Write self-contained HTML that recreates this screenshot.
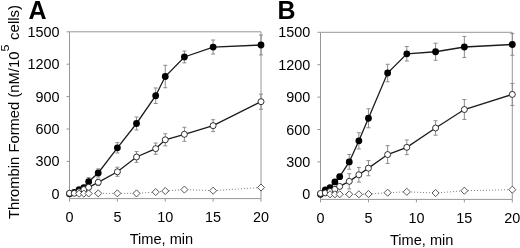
<!DOCTYPE html>
<html><head><meta charset="utf-8"><style>
html,body{margin:0;padding:0;background:#fff;}
svg{display:block;will-change:transform;}
text{font-family:"Liberation Sans",sans-serif;fill:#000;}
.tk{font-size:14.4px;}
.ax{font-size:14.6px;}
.pl{font-size:25px;font-weight:bold;}
</style></head><body>
<svg width="520" height="248" viewBox="0 0 520 248">
<path d="M69.50 31.80H261.00V198.60" fill="none" stroke="#969696" stroke-width="1"/>
<path d="M69.50 31.80V198.60H261.00" fill="none" stroke="#969696" stroke-width="1"/>
<path d="M66.50 193.80H69.50" stroke="#969696" stroke-width="1"/>
<text transform="translate(59.50,198.80) scale(1,1.08)" text-anchor="end" class="tk">0</text>
<path d="M66.50 161.40H69.50" stroke="#969696" stroke-width="1"/>
<text transform="translate(59.50,166.40) scale(1,1.08)" text-anchor="end" class="tk">300</text>
<path d="M66.50 129.00H69.50" stroke="#969696" stroke-width="1"/>
<text transform="translate(59.50,134.00) scale(1,1.08)" text-anchor="end" class="tk">600</text>
<path d="M66.50 96.60H69.50" stroke="#969696" stroke-width="1"/>
<text transform="translate(59.50,101.60) scale(1,1.08)" text-anchor="end" class="tk">900</text>
<path d="M66.50 64.20H69.50" stroke="#969696" stroke-width="1"/>
<text transform="translate(59.50,69.20) scale(1,1.08)" text-anchor="end" class="tk">1200</text>
<path d="M66.50 31.80H69.50" stroke="#969696" stroke-width="1"/>
<text transform="translate(59.50,36.80) scale(1,1.08)" text-anchor="end" class="tk">1500</text>
<path d="M69.50 198.60V201.60" stroke="#969696" stroke-width="1"/>
<text transform="translate(69.50,222.00) scale(1,1.08)" text-anchor="middle" class="tk">0</text>
<path d="M117.38 198.60V201.60" stroke="#969696" stroke-width="1"/>
<text transform="translate(117.38,222.00) scale(1,1.08)" text-anchor="middle" class="tk">5</text>
<path d="M165.25 198.60V201.60" stroke="#969696" stroke-width="1"/>
<text transform="translate(165.25,222.00) scale(1,1.08)" text-anchor="middle" class="tk">10</text>
<path d="M213.12 198.60V201.60" stroke="#969696" stroke-width="1"/>
<text transform="translate(213.12,222.00) scale(1,1.08)" text-anchor="middle" class="tk">15</text>
<path d="M261.00 198.60V201.60" stroke="#969696" stroke-width="1"/>
<text transform="translate(261.00,222.00) scale(1,1.08)" text-anchor="middle" class="tk">20</text>
<path d="M88.65 177.60V185.81M86.65 177.60H90.65M86.65 185.81H90.65" stroke="#8c8c8c" stroke-width="1" fill="none"/>
<path d="M98.22 168.85V177.06M96.22 168.85H100.22M96.22 177.06H100.22" stroke="#8c8c8c" stroke-width="1" fill="none"/>
<path d="M117.38 142.61V152.98M115.38 142.61H119.38M115.38 152.98H119.38" stroke="#8c8c8c" stroke-width="1" fill="none"/>
<path d="M136.52 117.01V129.97M134.52 117.01H138.52M134.52 129.97H138.52" stroke="#8c8c8c" stroke-width="1" fill="none"/>
<path d="M155.68 87.96V103.51M153.68 87.96H157.68M153.68 103.51H157.68" stroke="#8c8c8c" stroke-width="1" fill="none"/>
<path d="M165.25 65.28V87.74M163.25 65.28H167.25M163.25 87.74H167.25" stroke="#8c8c8c" stroke-width="1" fill="none"/>
<path d="M184.40 51.02V62.90M182.40 51.02H186.40M182.40 62.90H186.40" stroke="#8c8c8c" stroke-width="1" fill="none"/>
<path d="M213.12 40.01V54.05M211.12 40.01H215.12M211.12 54.05H215.12" stroke="#8c8c8c" stroke-width="1" fill="none"/>
<path d="M261.00 35.04V54.91M259.00 35.04H263.00M259.00 54.91H263.00" stroke="#8c8c8c" stroke-width="1" fill="none"/>
<path d="M98.22 179.11V185.59M96.22 179.11H100.22M96.22 185.59H100.22" stroke="#8c8c8c" stroke-width="1" fill="none"/>
<path d="M117.38 167.23V176.30M115.38 167.23H119.38M115.38 176.30H119.38" stroke="#8c8c8c" stroke-width="1" fill="none"/>
<path d="M136.52 151.57V162.37M134.52 151.57H138.52M134.52 162.37H138.52" stroke="#8c8c8c" stroke-width="1" fill="none"/>
<path d="M155.68 143.04V154.27M153.68 143.04H157.68M153.68 154.27H157.68" stroke="#8c8c8c" stroke-width="1" fill="none"/>
<path d="M165.25 133.75V145.85M163.25 133.75H167.25M163.25 145.85H167.25" stroke="#8c8c8c" stroke-width="1" fill="none"/>
<path d="M184.40 127.27V141.31M182.40 127.27H186.40M182.40 141.31H186.40" stroke="#8c8c8c" stroke-width="1" fill="none"/>
<path d="M213.12 119.71V131.59M211.12 119.71H215.12M211.12 131.59H215.12" stroke="#8c8c8c" stroke-width="1" fill="none"/>
<path d="M261.00 94.12V109.24M259.00 94.12H263.00M259.00 109.24H263.00" stroke="#8c8c8c" stroke-width="1" fill="none"/>
<polyline points="69.50,193.80 74.29,192.29 79.08,189.70 83.86,187.54 88.65,181.70 98.22,172.96 117.38,147.79 136.52,123.49 155.68,95.74 165.25,76.51 184.40,56.96 213.12,47.03 261.00,44.98" fill="none" stroke="#1c1c1c" stroke-width="1.3"/>
<circle cx="69.50" cy="193.80" r="3.4" fill="#000"/>
<circle cx="74.29" cy="192.29" r="3.4" fill="#000"/>
<circle cx="79.08" cy="189.70" r="3.4" fill="#000"/>
<circle cx="83.86" cy="187.54" r="3.4" fill="#000"/>
<circle cx="88.65" cy="181.70" r="3.4" fill="#000"/>
<circle cx="98.22" cy="172.96" r="3.4" fill="#000"/>
<circle cx="117.38" cy="147.79" r="3.4" fill="#000"/>
<circle cx="136.52" cy="123.49" r="3.4" fill="#000"/>
<circle cx="155.68" cy="95.74" r="3.4" fill="#000"/>
<circle cx="165.25" cy="76.51" r="3.4" fill="#000"/>
<circle cx="184.40" cy="56.96" r="3.4" fill="#000"/>
<circle cx="213.12" cy="47.03" r="3.4" fill="#000"/>
<circle cx="261.00" cy="44.98" r="3.4" fill="#000"/>
<polyline points="69.50,193.26 74.29,193.26 79.08,191.86 83.86,189.59 88.65,187.32 98.22,182.35 117.38,171.77 136.52,156.97 155.68,148.66 165.25,139.80 184.40,134.29 213.12,125.65 261.00,101.68" fill="none" stroke="#1c1c1c" stroke-width="1.3"/>
<circle cx="69.50" cy="193.26" r="3" fill="#fff" stroke="#1c1c1c" stroke-width="0.9"/>
<circle cx="74.29" cy="193.26" r="3" fill="#fff" stroke="#1c1c1c" stroke-width="0.9"/>
<circle cx="79.08" cy="191.86" r="3" fill="#fff" stroke="#1c1c1c" stroke-width="0.9"/>
<circle cx="83.86" cy="189.59" r="3" fill="#fff" stroke="#1c1c1c" stroke-width="0.9"/>
<circle cx="88.65" cy="187.32" r="3" fill="#fff" stroke="#1c1c1c" stroke-width="0.9"/>
<circle cx="98.22" cy="182.35" r="3" fill="#fff" stroke="#1c1c1c" stroke-width="0.9"/>
<circle cx="117.38" cy="171.77" r="3" fill="#fff" stroke="#1c1c1c" stroke-width="0.9"/>
<circle cx="136.52" cy="156.97" r="3" fill="#fff" stroke="#1c1c1c" stroke-width="0.9"/>
<circle cx="155.68" cy="148.66" r="3" fill="#fff" stroke="#1c1c1c" stroke-width="0.9"/>
<circle cx="165.25" cy="139.80" r="3" fill="#fff" stroke="#1c1c1c" stroke-width="0.9"/>
<circle cx="184.40" cy="134.29" r="3" fill="#fff" stroke="#1c1c1c" stroke-width="0.9"/>
<circle cx="213.12" cy="125.65" r="3" fill="#fff" stroke="#1c1c1c" stroke-width="0.9"/>
<circle cx="261.00" cy="101.68" r="3" fill="#fff" stroke="#1c1c1c" stroke-width="0.9"/>
<polyline points="79.08,193.69 83.86,193.58 88.65,193.48 98.22,193.37 117.38,193.37 136.52,193.37 155.68,192.07 165.25,190.99 184.40,189.59 213.12,190.67 261.00,187.54" fill="none" stroke="#858585" stroke-width="1" stroke-dasharray="1.1 1.9"/>
<path d="M79.08 190.14L82.62 193.69L79.08 197.24L75.53 193.69Z" fill="#fff" stroke="#3a3a3a" stroke-width="0.85"/>
<path d="M83.86 190.03L87.41 193.58L83.86 197.13L80.31 193.58Z" fill="#fff" stroke="#3a3a3a" stroke-width="0.85"/>
<path d="M88.65 189.93L92.20 193.48L88.65 197.03L85.10 193.48Z" fill="#fff" stroke="#3a3a3a" stroke-width="0.85"/>
<path d="M98.22 189.82L101.77 193.37L98.22 196.92L94.67 193.37Z" fill="#fff" stroke="#3a3a3a" stroke-width="0.85"/>
<path d="M117.38 189.82L120.92 193.37L117.38 196.92L113.83 193.37Z" fill="#fff" stroke="#3a3a3a" stroke-width="0.85"/>
<path d="M136.52 189.82L140.07 193.37L136.52 196.92L132.97 193.37Z" fill="#fff" stroke="#3a3a3a" stroke-width="0.85"/>
<path d="M155.68 188.52L159.23 192.07L155.68 195.62L152.12 192.07Z" fill="#fff" stroke="#3a3a3a" stroke-width="0.85"/>
<path d="M165.25 187.44L168.80 190.99L165.25 194.54L161.70 190.99Z" fill="#fff" stroke="#3a3a3a" stroke-width="0.85"/>
<path d="M184.40 186.04L187.95 189.59L184.40 193.14L180.85 189.59Z" fill="#fff" stroke="#3a3a3a" stroke-width="0.85"/>
<path d="M213.12 187.12L216.68 190.67L213.12 194.22L209.57 190.67Z" fill="#fff" stroke="#3a3a3a" stroke-width="0.85"/>
<path d="M261.00 183.99L264.55 187.54L261.00 191.09L257.45 187.54Z" fill="#fff" stroke="#3a3a3a" stroke-width="0.85"/>
<text transform="translate(129.70,243.60) scale(1,1.03)" class="ax">Time, min</text>
<text x="28.50" y="19" class="pl">A</text>
<path d="M320.50 32.30H512.30V199.40" fill="none" stroke="#969696" stroke-width="1"/>
<path d="M320.50 32.30V199.40H512.30" fill="none" stroke="#969696" stroke-width="1"/>
<path d="M317.50 194.30H320.50" stroke="#969696" stroke-width="1"/>
<text transform="translate(310.30,199.30) scale(1,1.08)" text-anchor="end" class="tk">0</text>
<path d="M317.50 161.90H320.50" stroke="#969696" stroke-width="1"/>
<text transform="translate(310.30,166.90) scale(1,1.08)" text-anchor="end" class="tk">300</text>
<path d="M317.50 129.50H320.50" stroke="#969696" stroke-width="1"/>
<text transform="translate(310.30,134.50) scale(1,1.08)" text-anchor="end" class="tk">600</text>
<path d="M317.50 97.10H320.50" stroke="#969696" stroke-width="1"/>
<text transform="translate(310.30,102.10) scale(1,1.08)" text-anchor="end" class="tk">900</text>
<path d="M317.50 64.70H320.50" stroke="#969696" stroke-width="1"/>
<text transform="translate(310.30,69.70) scale(1,1.08)" text-anchor="end" class="tk">1200</text>
<path d="M317.50 32.30H320.50" stroke="#969696" stroke-width="1"/>
<text transform="translate(310.30,37.30) scale(1,1.08)" text-anchor="end" class="tk">1500</text>
<path d="M320.50 199.40V202.40" stroke="#969696" stroke-width="1"/>
<text transform="translate(320.50,222.50) scale(1,1.08)" text-anchor="middle" class="tk">0</text>
<path d="M368.45 199.40V202.40" stroke="#969696" stroke-width="1"/>
<text transform="translate(368.45,222.50) scale(1,1.08)" text-anchor="middle" class="tk">5</text>
<path d="M416.40 199.40V202.40" stroke="#969696" stroke-width="1"/>
<text transform="translate(416.40,222.50) scale(1,1.08)" text-anchor="middle" class="tk">10</text>
<path d="M464.35 199.40V202.40" stroke="#969696" stroke-width="1"/>
<text transform="translate(464.35,222.50) scale(1,1.08)" text-anchor="middle" class="tk">15</text>
<path d="M512.30 199.40V202.40" stroke="#969696" stroke-width="1"/>
<text transform="translate(512.30,222.50) scale(1,1.08)" text-anchor="middle" class="tk">20</text>
<path d="M334.88 180.80V182.96M332.88 180.80H336.88M332.88 182.96H336.88" stroke="#8c8c8c" stroke-width="1" fill="none"/>
<path d="M339.68 175.08V178.32M337.68 175.08H341.68M337.68 178.32H341.68" stroke="#8c8c8c" stroke-width="1" fill="none"/>
<path d="M349.27 154.56V169.24M347.27 154.56H351.27M347.27 169.24H351.27" stroke="#8c8c8c" stroke-width="1" fill="none"/>
<path d="M358.86 132.74V148.94M356.86 132.74H360.86M356.86 148.94H360.86" stroke="#8c8c8c" stroke-width="1" fill="none"/>
<path d="M368.45 108.76V127.77M366.45 108.76H370.45M366.45 127.77H370.45" stroke="#8c8c8c" stroke-width="1" fill="none"/>
<path d="M387.63 64.27V81.76M385.63 64.27H389.63M385.63 81.76H389.63" stroke="#8c8c8c" stroke-width="1" fill="none"/>
<path d="M406.81 46.56V61.03M404.81 46.56H408.81M404.81 61.03H408.81" stroke="#8c8c8c" stroke-width="1" fill="none"/>
<path d="M435.58 43.21V60.27M433.58 43.21H437.58M433.58 60.27H437.58" stroke="#8c8c8c" stroke-width="1" fill="none"/>
<path d="M464.35 36.40V57.57M462.35 36.40H466.35M462.35 57.57H466.35" stroke="#8c8c8c" stroke-width="1" fill="none"/>
<path d="M512.30 33.70V55.30M510.30 33.70H514.30M510.30 55.30H514.30" stroke="#8c8c8c" stroke-width="1" fill="none"/>
<path d="M349.27 173.78V188.90M347.27 173.78H351.27M347.27 188.90H351.27" stroke="#8c8c8c" stroke-width="1" fill="none"/>
<path d="M358.86 167.41V182.10M356.86 167.41H360.86M356.86 182.10H360.86" stroke="#8c8c8c" stroke-width="1" fill="none"/>
<path d="M368.45 160.60V175.72M366.45 160.60H370.45M366.45 175.72H370.45" stroke="#8c8c8c" stroke-width="1" fill="none"/>
<path d="M387.63 145.70V163.41M385.63 145.70H389.63M385.63 163.41H389.63" stroke="#8c8c8c" stroke-width="1" fill="none"/>
<path d="M406.81 139.98V154.66M404.81 139.98H408.81M404.81 154.66H408.81" stroke="#8c8c8c" stroke-width="1" fill="none"/>
<path d="M435.58 120.75V135.22M433.58 120.75H437.58M433.58 135.22H437.58" stroke="#8c8c8c" stroke-width="1" fill="none"/>
<path d="M464.35 99.58V119.46M462.35 99.58H466.35M462.35 119.46H466.35" stroke="#8c8c8c" stroke-width="1" fill="none"/>
<path d="M512.30 83.38V105.42M510.30 83.38H514.30M510.30 105.42H514.30" stroke="#8c8c8c" stroke-width="1" fill="none"/>
<polyline points="320.50,194.30 325.30,189.98 330.09,187.60 334.88,181.88 339.68,176.70 349.27,161.90 358.86,140.84 368.45,118.27 387.63,73.02 406.81,53.79 435.58,51.74 464.35,46.99 512.30,44.50" fill="none" stroke="#1c1c1c" stroke-width="1.3"/>
<circle cx="320.50" cy="194.30" r="3.4" fill="#000"/>
<circle cx="325.30" cy="189.98" r="3.4" fill="#000"/>
<circle cx="330.09" cy="187.60" r="3.4" fill="#000"/>
<circle cx="334.88" cy="181.88" r="3.4" fill="#000"/>
<circle cx="339.68" cy="176.70" r="3.4" fill="#000"/>
<circle cx="349.27" cy="161.90" r="3.4" fill="#000"/>
<circle cx="358.86" cy="140.84" r="3.4" fill="#000"/>
<circle cx="368.45" cy="118.27" r="3.4" fill="#000"/>
<circle cx="387.63" cy="73.02" r="3.4" fill="#000"/>
<circle cx="406.81" cy="53.79" r="3.4" fill="#000"/>
<circle cx="435.58" cy="51.74" r="3.4" fill="#000"/>
<circle cx="464.35" cy="46.99" r="3.4" fill="#000"/>
<circle cx="512.30" cy="44.50" r="3.4" fill="#000"/>
<polyline points="320.50,193.44 325.30,192.90 330.09,191.49 334.88,189.33 339.68,186.42 349.27,181.34 358.86,174.75 368.45,168.16 387.63,154.56 406.81,147.32 435.58,127.99 464.35,109.52 512.30,94.40" fill="none" stroke="#1c1c1c" stroke-width="1.3"/>
<circle cx="320.50" cy="193.44" r="3" fill="#fff" stroke="#1c1c1c" stroke-width="0.9"/>
<circle cx="325.30" cy="192.90" r="3" fill="#fff" stroke="#1c1c1c" stroke-width="0.9"/>
<circle cx="330.09" cy="191.49" r="3" fill="#fff" stroke="#1c1c1c" stroke-width="0.9"/>
<circle cx="334.88" cy="189.33" r="3" fill="#fff" stroke="#1c1c1c" stroke-width="0.9"/>
<circle cx="339.68" cy="186.42" r="3" fill="#fff" stroke="#1c1c1c" stroke-width="0.9"/>
<circle cx="349.27" cy="181.34" r="3" fill="#fff" stroke="#1c1c1c" stroke-width="0.9"/>
<circle cx="358.86" cy="174.75" r="3" fill="#fff" stroke="#1c1c1c" stroke-width="0.9"/>
<circle cx="368.45" cy="168.16" r="3" fill="#fff" stroke="#1c1c1c" stroke-width="0.9"/>
<circle cx="387.63" cy="154.56" r="3" fill="#fff" stroke="#1c1c1c" stroke-width="0.9"/>
<circle cx="406.81" cy="147.32" r="3" fill="#fff" stroke="#1c1c1c" stroke-width="0.9"/>
<circle cx="435.58" cy="127.99" r="3" fill="#fff" stroke="#1c1c1c" stroke-width="0.9"/>
<circle cx="464.35" cy="109.52" r="3" fill="#fff" stroke="#1c1c1c" stroke-width="0.9"/>
<circle cx="512.30" cy="94.40" r="3" fill="#fff" stroke="#1c1c1c" stroke-width="0.9"/>
<polyline points="330.09,194.30 334.88,194.30 339.68,194.30 349.27,194.30 358.86,194.30 368.45,194.08 387.63,192.68 406.81,191.82 435.58,193.00 464.35,190.74 512.30,189.66" fill="none" stroke="#858585" stroke-width="1" stroke-dasharray="1.1 1.9"/>
<path d="M330.09 190.75L333.64 194.30L330.09 197.85L326.54 194.30Z" fill="#fff" stroke="#3a3a3a" stroke-width="0.85"/>
<path d="M334.88 190.75L338.44 194.30L334.88 197.85L331.33 194.30Z" fill="#fff" stroke="#3a3a3a" stroke-width="0.85"/>
<path d="M339.68 190.75L343.23 194.30L339.68 197.85L336.13 194.30Z" fill="#fff" stroke="#3a3a3a" stroke-width="0.85"/>
<path d="M349.27 190.75L352.82 194.30L349.27 197.85L345.72 194.30Z" fill="#fff" stroke="#3a3a3a" stroke-width="0.85"/>
<path d="M358.86 190.75L362.41 194.30L358.86 197.85L355.31 194.30Z" fill="#fff" stroke="#3a3a3a" stroke-width="0.85"/>
<path d="M368.45 190.53L372.00 194.08L368.45 197.63L364.90 194.08Z" fill="#fff" stroke="#3a3a3a" stroke-width="0.85"/>
<path d="M387.63 189.13L391.18 192.68L387.63 196.23L384.08 192.68Z" fill="#fff" stroke="#3a3a3a" stroke-width="0.85"/>
<path d="M406.81 188.27L410.36 191.82L406.81 195.37L403.26 191.82Z" fill="#fff" stroke="#3a3a3a" stroke-width="0.85"/>
<path d="M435.58 189.45L439.13 193.00L435.58 196.55L432.03 193.00Z" fill="#fff" stroke="#3a3a3a" stroke-width="0.85"/>
<path d="M464.35 187.19L467.90 190.74L464.35 194.29L460.80 190.74Z" fill="#fff" stroke="#3a3a3a" stroke-width="0.85"/>
<path d="M512.30 186.11L515.85 189.66L512.30 193.21L508.75 189.66Z" fill="#fff" stroke="#3a3a3a" stroke-width="0.85"/>
<text transform="translate(389.90,245.40) scale(1,1.03)" class="ax">Time, min</text>
<text x="277.60" y="19" class="pl">B</text>
<text transform="translate(19.2,219.1) rotate(-90) scale(0.986,0.93)" class="ax" style="font-size:15px">Thrombin Formed (nM/10</text>
<text transform="translate(9.3,51.6) rotate(-90) scale(1,0.93)" class="ax" style="font-size:12.5px">5</text>
<text transform="translate(19.2,39.9) rotate(-90) scale(1,0.93)" class="ax" style="font-size:15px">cells)</text>
</svg>
</body></html>
